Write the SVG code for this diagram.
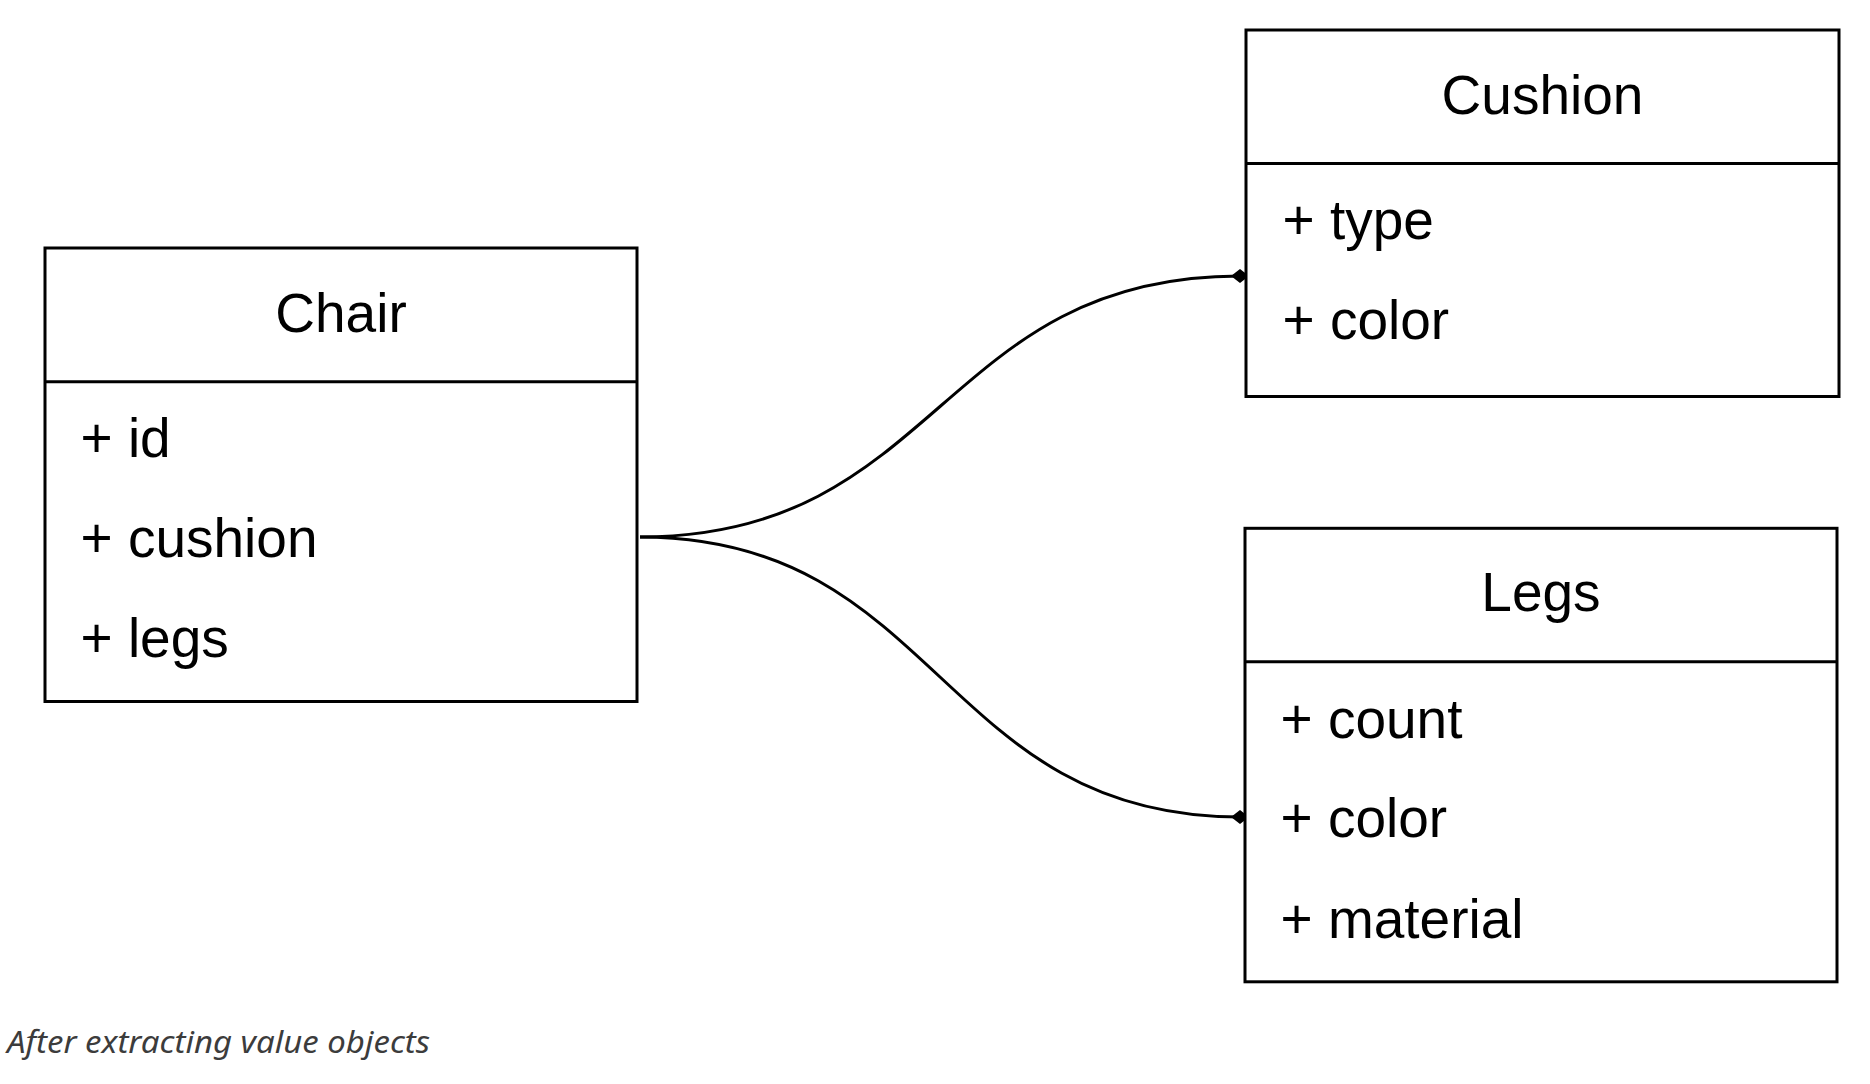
<svg xmlns="http://www.w3.org/2000/svg" width="1870" height="1084" viewBox="0 0 1870 1084">
<style>
  .box { fill: #ffffff; stroke: #000000; stroke-width: 3; }
  .div { stroke: #000000; stroke-width: 3; }
  .title { font-family: "Liberation Sans", Arial, sans-serif; font-size: 55px; fill: #000000; text-anchor: middle; }
  .attr { font-family: "Liberation Sans", Arial, sans-serif; font-size: 55px; fill: #000000; }
  .link { fill: none; stroke: #000000; stroke-width: 3; }
  .caption { font-family: "Noto Sans", "Open Sans", sans-serif; font-style: italic; font-size: 31px; fill: #3c3c3c; }
</style>
<defs>
  <marker id="diamond" viewBox="0 0 18 14" refX="9" refY="7" markerWidth="18" markerHeight="14" markerUnits="userSpaceOnUse" orient="auto">
    <path d="M0,7 L9,0 L18,7 L9,14 Z" fill="#000000"/>
  </marker>
</defs>
<rect width="1870" height="1084" fill="#ffffff"/>

<g id="connectors">
  <path class="link" d="M640,537 C940,537 940,276 1240,276" marker-end="url(#diamond)"/>
  <path class="link" d="M640,537 C940,537 940,817 1240,817" marker-end="url(#diamond)"/>
</g>

<g id="chair">
  <rect class="box" x="45" y="248" width="592" height="453.5"/>
  <line class="div" x1="45" y1="381.7" x2="637" y2="381.7"/>
  <text class="title" x="341" y="332">Chair</text>
  <text class="attr" x="80.5" y="457">+ id</text>
  <text class="attr" x="80.5" y="557">+ cushion</text>
  <text class="attr" x="80.5" y="657">+ legs</text>
</g>

<g id="cushion">
  <rect class="box" x="1246" y="30" width="593" height="366.5"/>
  <line class="div" x1="1246" y1="163.5" x2="1839" y2="163.5"/>
  <text class="title" x="1542.5" y="114">Cushion</text>
  <text class="attr" x="1282.5" y="239">+ type</text>
  <text class="attr" x="1282.5" y="339">+ color</text>
</g>

<g id="legs">
  <rect class="box" x="1245" y="528.3" width="592" height="453.5"/>
  <line class="div" x1="1245" y1="661.7" x2="1837" y2="661.7"/>
  <text class="title" x="1541" y="611">Legs</text>
  <text class="attr" x="1280.5" y="737.7">+ count</text>
  <text class="attr" x="1280.5" y="837">+ color</text>
  <text class="attr" x="1280.5" y="937.7">+ material</text>
</g>

<g id="caption">
  <text class="caption" x="7" y="1053" textLength="423" lengthAdjust="spacingAndGlyphs">After extracting value objects</text>
</g>
</svg>
